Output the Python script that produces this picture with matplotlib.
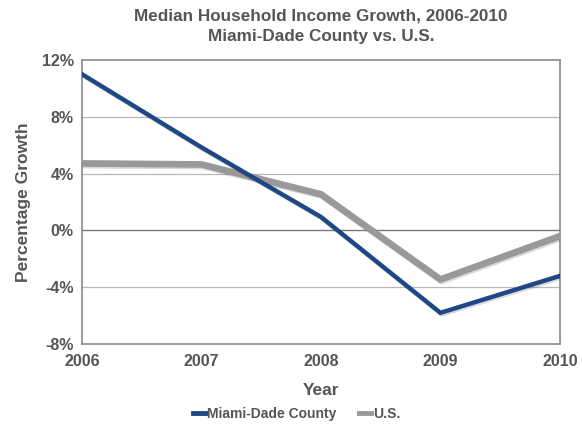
import matplotlib.pyplot as plt
import matplotlib.patheffects as pe
from matplotlib.ticker import FuncFormatter

plt.rcParams['font.family'] = ['Liberation Sans', 'DejaVu Sans']
plt.rcParams['font.weight'] = 'bold'
plt.rcParams['axes.titleweight'] = 'bold'
plt.rcParams['axes.labelweight'] = 'bold'

years = [2006, 2007, 2008, 2009, 2010]
miami = [11.0, 5.85, 0.95, -5.8, -3.2]
us = [4.72, 4.65, 2.55, -3.45, -0.4]

text_col = '#555555'
blue = '#1f4785'
gray = '#999999'

fig = plt.figure(figsize=(5.82, 4.29), dpi=100)
ax = fig.add_axes([0.141, 0.198, 0.821, 0.662])

shadow = [pe.SimpleLineShadow(offset=(1, -1.2), alpha=0.15, shadow_color='black'), pe.Normal()]
ax.plot(years, us, color=gray, lw=4.8, label='U.S.', solid_joinstyle='miter',
        path_effects=shadow, zorder=3)
ax.plot(years, miami, color=blue, lw=3.2, label='Miami-Dade County', solid_joinstyle='miter',
        path_effects=shadow, zorder=4)

ax.set_xlim(2006, 2010)
ax.set_ylim(-8, 12)
ax.set_xticks(years)
ax.set_yticks([-8, -4, 0, 4, 8, 12])
ax.yaxis.set_major_formatter(FuncFormatter(lambda v, p: f'{v:.0f}%'))
ax.tick_params(length=0, labelsize=11.5, colors=text_col, pad=6)
ax.tick_params(axis='x', pad=7)

for y in [-4, 4, 8]:
    ax.axhline(y, color='#b8b8b8', lw=0.9, zorder=1)
ax.axhline(0, color='#777777', lw=1.0, zorder=1)
for s in ax.spines.values():
    s.set_color('#8a8a8a')
    s.set_linewidth(1.2)

ax.set_xlabel('Year', fontsize=12.5, color=text_col, labelpad=10)
ax.set_ylabel('Percentage Growth', fontsize=12.5, color=text_col, labelpad=8)
ax.set_title('Median Household Income Growth, 2006-2010\nMiami-Dade County vs. U.S.',
             fontsize=12.3, color=text_col, pad=14, linespacing=1.4)

# legend keys drawn as short flat bars
handles, labels = ax.get_legend_handles_labels()
leg = fig.legend(handles[::-1], labels[::-1], loc='lower center', bbox_to_anchor=(0.51, -0.01),
                 ncol=2, frameon=False, fontsize=10, handlelength=0.9, handletextpad=0.1,
                 columnspacing=1.6, labelcolor=text_col)
for h in leg.legend_handles:
    h.set_linewidth(3.5)
    h.set_path_effects([])

fig.savefig('out.png', dpi=100)
